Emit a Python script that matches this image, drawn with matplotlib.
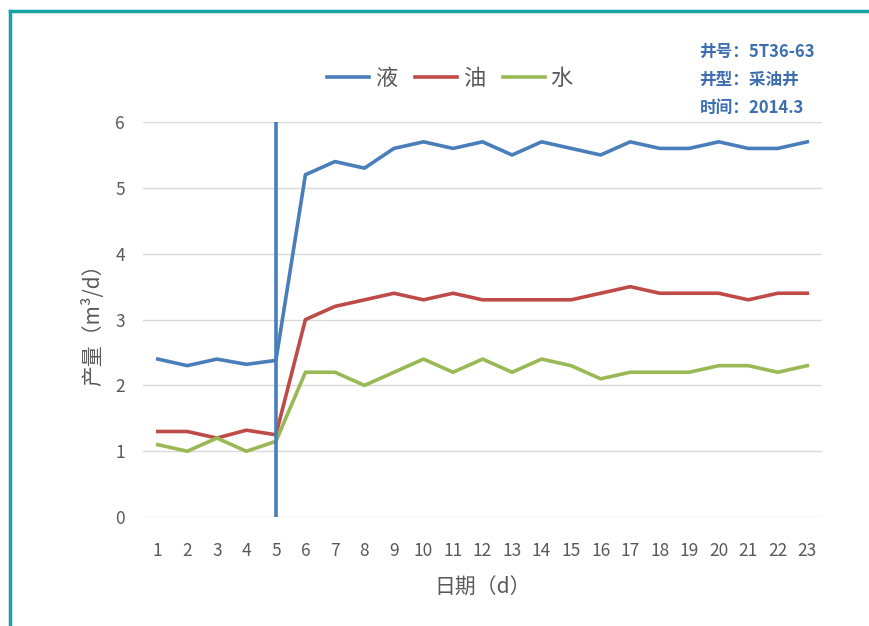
import matplotlib.pyplot as plt
from matplotlib.lines import Line2D

plt.rcParams['font.family'] = ['Noto Sans CJK SC', 'DejaVu Sans']

days = list(range(1, 24))
liquid = [2.4, 2.3, 2.4, 2.32, 2.38, 5.2, 5.4, 5.3, 5.6, 5.7, 5.6, 5.7,
          5.5, 5.7, 5.6, 5.5, 5.7, 5.6, 5.6, 5.7, 5.6, 5.6, 5.7]
oil = [1.3, 1.3, 1.2, 1.32, 1.25, 3.0, 3.2, 3.3, 3.4, 3.3, 3.4, 3.3,
       3.3, 3.3, 3.3, 3.4, 3.5, 3.4, 3.4, 3.4, 3.3, 3.4, 3.4]
water = [1.1, 1.0, 1.2, 1.0, 1.15, 2.2, 2.2, 2.0, 2.2, 2.4, 2.2, 2.4,
         2.2, 2.4, 2.3, 2.1, 2.2, 2.2, 2.2, 2.3, 2.3, 2.2, 2.3]
marker_day = 5
info_lines = ["井号：5T36-63", "井型：采油井", "时间：2014.3"]

c_liquid = "#4a7ebb"
c_oil = "#be4b48"
c_water = "#98b954"
grey = "#595959"

fig = plt.figure(figsize=(8.69, 6.26), dpi=100)
ax = fig.add_axes([0.1646, 0.174, 0.7814, 0.631])

ax.plot(days, liquid, color=c_liquid, lw=2.6, label="液")
ax.plot(days, oil, color=c_oil, lw=2.6, label="油")
ax.plot(days, water, color=c_water, lw=2.6, label="水")
ax.vlines(marker_day, 0, 6, color=c_liquid, lw=2.6)

ax.set_xlim(0.5, 23.5)
ax.set_ylim(0, 6)
ax.set_xticks(days)
ax.set_yticks(range(0, 7))
ax.grid(axis="y", color="#d9d9d9", lw=1)
ax.set_axisbelow(True)
for s in ax.spines.values():
    s.set_visible(False)
ax.tick_params(length=0, labelsize=12.5, labelcolor=grey)
ax.tick_params(axis="x", pad=18)
ax.tick_params(axis="y", pad=13)

ax.set_xlabel("日期（d）", fontsize=15, color=grey, labelpad=12)
ax.set_ylabel("产量（m³/d）", fontsize=15, color=grey, labelpad=8)

ax.legend(loc="lower center", bbox_to_anchor=(0.452, 1.03), ncol=3, frameon=False,
          fontsize=16, labelcolor=grey, handlelength=1.9, columnspacing=0.8,
          handletextpad=0.25)

for i, line in enumerate(info_lines):
    fig.text(0.805, 0.917 - i * 0.045, line, fontsize=12, fontweight="bold",
             color="#3d6fb0", ha="left", va="center")

# teal frame along the top and left edges
fig.add_artist(Line2D([0.0115, 1.0], [0.983, 0.983], color="#16a3a3", lw=2.5))
fig.add_artist(Line2D([0.0115, 0.0115], [0.0, 0.983], color="#16a3a3", lw=2.5))

fig.savefig("out.png", dpi=100)
